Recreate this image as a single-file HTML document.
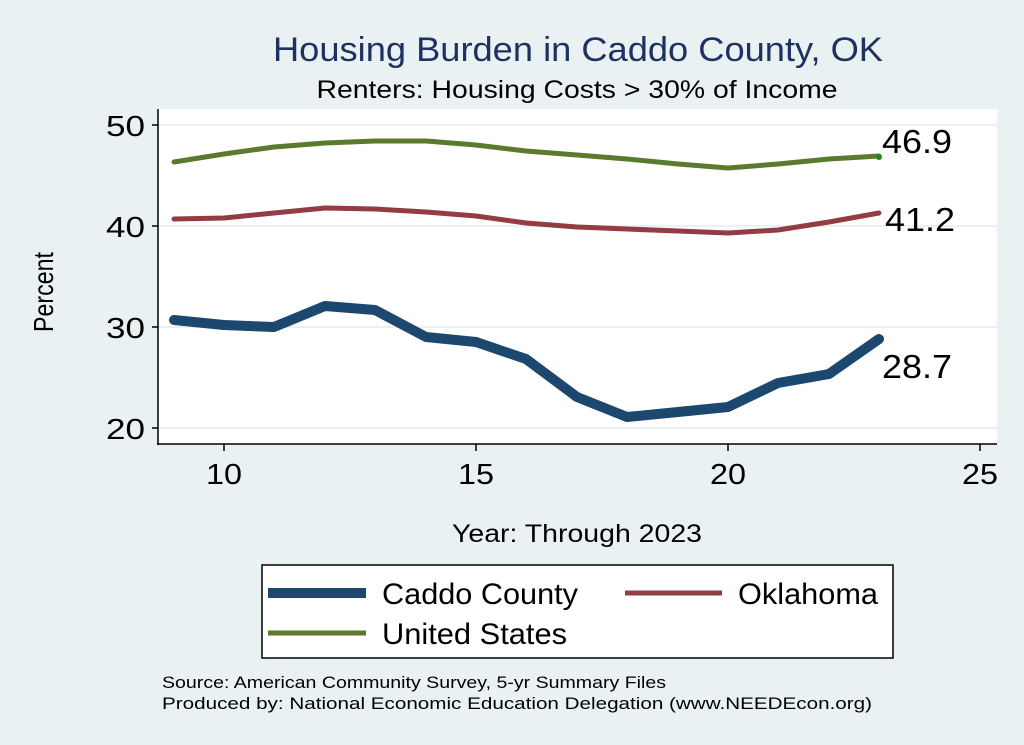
<!DOCTYPE html>
<html><head><meta charset="utf-8"><style>
html,body{margin:0;padding:0;background:#eaf1f3;}
svg{display:block;font-family:"Liberation Sans",sans-serif;}
</style></head><body>
<svg width="1024" height="745" viewBox="0 0 1024 745">
<rect width="1024" height="745" fill="#eaf1f3"/>
<rect x="158" y="109" width="839" height="335" fill="#fff"/>
<g stroke="#eaf1f3" stroke-width="2">
<line x1="158" x2="997" y1="125" y2="125"/>
<line x1="158" x2="997" y1="226" y2="226"/>
<line x1="158" x2="997" y1="327" y2="327"/>
<line x1="158" x2="997" y1="428" y2="428"/>
</g>
<g stroke="#000" stroke-width="1.5">
<line x1="158" y1="109" x2="158" y2="445"/>
<line x1="157" y1="444" x2="997" y2="444"/>
<line x1="152" x2="158" y1="125" y2="125"/><line x1="152" x2="158" y1="226" y2="226"/>
<line x1="152" x2="158" y1="327" y2="327"/><line x1="152" x2="158" y1="428" y2="428"/>
<line x1="224" x2="224" y1="444" y2="451"/><line x1="476" x2="476" y1="444" y2="451"/>
<line x1="728" x2="728" y1="444" y2="451"/><line x1="980" x2="980" y1="444" y2="451"/>
</g>
<g font-size="29" text-anchor="end" fill="#000">
<text x="145" y="136" textLength="39" lengthAdjust="spacingAndGlyphs">50</text><text x="145" y="237" textLength="39" lengthAdjust="spacingAndGlyphs">40</text>
<text x="145" y="338" textLength="39" lengthAdjust="spacingAndGlyphs">30</text><text x="145" y="439" textLength="39" lengthAdjust="spacingAndGlyphs">20</text>
</g>
<g font-size="29" text-anchor="middle" fill="#000">
<text x="224" y="484" textLength="36" lengthAdjust="spacingAndGlyphs">10</text><text x="476" y="484" textLength="36" lengthAdjust="spacingAndGlyphs">15</text>
<text x="728" y="484" textLength="36" lengthAdjust="spacingAndGlyphs">20</text><text x="980" y="484" textLength="36" lengthAdjust="spacingAndGlyphs">25</text>
</g>
<text x="53" y="292" font-size="28" text-anchor="middle" transform="rotate(-90 53 292)" textLength="80" lengthAdjust="spacingAndGlyphs">Percent</text>
<text x="577" y="542" font-size="25" text-anchor="middle" textLength="250" lengthAdjust="spacingAndGlyphs">Year: Through 2023</text>
<text x="578" y="61" font-size="34" text-anchor="middle" fill="#1e3160" textLength="610" lengthAdjust="spacingAndGlyphs">Housing Burden in Caddo County, OK</text>
<text x="577" y="98" font-size="25" text-anchor="middle" textLength="521" lengthAdjust="spacingAndGlyphs">Renters: Housing Costs &gt; 30% of Income</text>
<g fill="none" stroke-linejoin="round" stroke-linecap="round">
<polyline stroke="#5a7a2e" stroke-width="5" points="174,162 224,154 274,147 325,143 375,141 426,141 476,145 526,151 577,155 627,159 678,164 728,168 778,164 829,159 879,156"/>
<polyline stroke="#923c43" stroke-width="5" points="174,219 224,218 274,213 325,208 375,209 426,212 476,216 526,223 577,227 627,229 678,231 728,233 778,230 829,222 879,213"/>
<polyline stroke="#1c476e" stroke-width="10" points="174,320 224,325 274,327 325,306 375,310 426,337 476,342 526,359 577,397 627,417 678,412 728,407 778,383 829,374 879,339"/>
</g>
<circle cx="879" cy="157" r="3" fill="#1a8a1a"/>
<g font-size="33" fill="#000">
<text x="882" y="153" textLength="70" lengthAdjust="spacingAndGlyphs">46.9</text><text x="885" y="231" textLength="70" lengthAdjust="spacingAndGlyphs">41.2</text><text x="882" y="378" textLength="70" lengthAdjust="spacingAndGlyphs">28.7</text>
</g>
<rect x="262" y="565" width="631" height="93" fill="#fff" stroke="#000" stroke-width="1.5"/>
<line x1="268" x2="366" y1="593" y2="593" stroke="#1c476e" stroke-width="10"/>
<line x1="625" x2="722" y1="593" y2="593" stroke="#923c43" stroke-width="5"/>
<line x1="268" x2="366" y1="633" y2="633" stroke="#5a7a2e" stroke-width="5"/>
<g font-size="30" fill="#000">
<text x="382" y="604" textLength="196" lengthAdjust="spacingAndGlyphs">Caddo County</text><text x="738" y="604" textLength="140" lengthAdjust="spacingAndGlyphs">Oklahoma</text><text x="382" y="644" textLength="185" lengthAdjust="spacingAndGlyphs">United States</text>
</g>
<g font-size="17" fill="#000">
<text x="162" y="688" textLength="504" lengthAdjust="spacingAndGlyphs">Source: American Community Survey, 5-yr Summary Files</text>
<text x="162" y="709" textLength="710" lengthAdjust="spacingAndGlyphs">Produced by: National Economic Education Delegation (www.NEEDEcon.org)</text>
</g>
</svg>
</body></html>
